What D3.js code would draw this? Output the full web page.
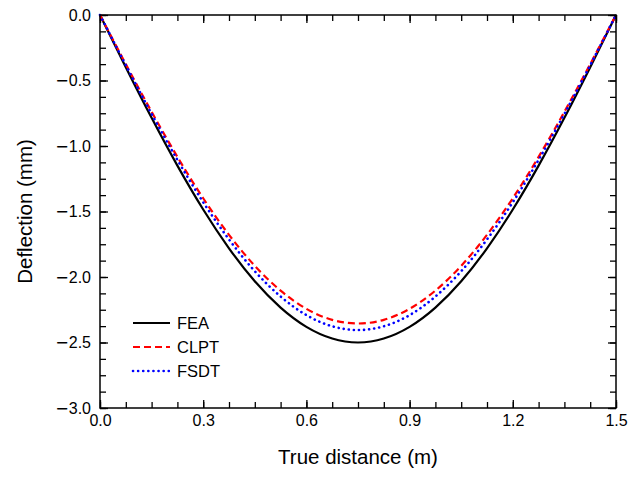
<!DOCTYPE html>
<html lang="en">
<head>
<meta charset="UTF-8">
<title>Deflection vs true distance</title>
<script src="https://d3js.org/d3.v7.min.js"></script>
<style>
  body { margin: 0; background: #fff; }
  text { font-family: "Liberation Sans", Arial, Helvetica, sans-serif; }
</style>
</head>
<body>
<svg width="631" height="477"></svg>
<script>
// distance along the plate (m)
const distance = [0, 0.075, 0.15, 0.225, 0.3, 0.375, 0.45, 0.525, 0.6, 0.675, 0.75,
                  0.825, 0.9, 0.975, 1.05, 1.125, 1.2, 1.275, 1.35, 1.425, 1.5];
// deflection (mm) for each method
const fea  = [0, -0.398, -0.785, -1.150, -1.485, -1.781, -2.033, -2.234, -2.381, -2.470, -2.500,
              -2.470, -2.381, -2.234, -2.033, -1.781, -1.485, -1.150, -0.785, -0.398, 0];
const clpt = [0, -0.375, -0.739, -1.083, -1.399, -1.678, -1.915, -2.104, -2.243, -2.327, -2.355,
              -2.327, -2.243, -2.104, -1.915, -1.678, -1.399, -1.083, -0.739, -0.375, 0];
const fsdt = [0, -0.383, -0.755, -1.106, -1.429, -1.713, -1.956, -2.149, -2.291, -2.376, -2.405,
              -2.376, -2.291, -2.149, -1.956, -1.713, -1.429, -1.106, -0.755, -0.383, 0];

const xTicks = [0, 0.3, 0.6, 0.9, 1.2, 1.5];
const yTicks = [0, -0.5, -1.0, -1.5, -2.0, -2.5, -3.0];

const series = [
  { name: "FEA",  values: fea,  color: "#000000", dash: null,    width: 2.2 },
  { name: "CLPT", values: clpt, color: "#ff0000", dash: "7,4",   width: 2.2 },
  { name: "FSDT", values: fsdt, color: "#0000ff", dash: "0.1,5", width: 2.6 }
];

const svg = d3.select("svg");
const margin = { top: 15, right: 15, bottom: 69, left: 100 };
const width = 631 - margin.left - margin.right;
const height = 477 - margin.top - margin.bottom;

const g = svg.append("g")
  .attr("transform", `translate(${margin.left},${margin.top})`);

const x = d3.scaleLinear().domain([0, 1.5]).range([0, width]);
const y = d3.scaleLinear().domain([-3, 0]).range([height, 0]);

const xMinor = d3.range(0, 1.5001, 0.075);
const yMinor = d3.range(-3, 0.0001, 0.125);
const fmt = d3.format(".1f");

function styleAxis(sel) {
  sel.select(".domain").remove();
  sel.selectAll("line").attr("stroke", "#000").attr("stroke-width", 1.3);
  sel.selectAll("text").attr("font-size", "16px").attr("fill", "#000");
}

// wide minus sign like the original
function minusLabels(sel) {
  sel.selectAll(".tick text").each(function(d) {
    const t = d3.select(this);
    t.text(null);
    if (d < 0) t.append("tspan").attr("font-family", "DejaVu Sans").text("\u2212");
    t.append("tspan").text(fmt(Math.abs(d)));
  });
}

// minor ticks on all four sides
g.append("g").attr("transform", `translate(0,${height})`)
  .call(d3.axisBottom(x).tickValues(xMinor).tickSize(-6).tickFormat("")).call(styleAxis);
g.append("g")
  .call(d3.axisTop(x).tickValues(xMinor).tickSize(-6).tickFormat("")).call(styleAxis);
g.append("g")
  .call(d3.axisLeft(y).tickValues(yMinor).tickSize(-6).tickFormat("")).call(styleAxis);
g.append("g").attr("transform", `translate(${width},0)`)
  .call(d3.axisRight(y).tickValues(yMinor).tickSize(-6).tickFormat("")).call(styleAxis);

// major ticks with labels
g.append("g").attr("transform", `translate(0,${height})`)
  .call(d3.axisBottom(x).tickValues(xTicks).tickSize(-8).tickPadding(7).tickFormat(fmt))
  .call(styleAxis);
g.append("g")
  .call(d3.axisTop(x).tickValues(xTicks).tickSize(-8).tickFormat("")).call(styleAxis);
g.append("g")
  .call(d3.axisLeft(y).tickValues(yTicks).tickSize(-8).tickPadding(9).tickFormat(fmt))
  .call(styleAxis)
  .call(minusLabels);
g.append("g").attr("transform", `translate(${width},0)`)
  .call(d3.axisRight(y).tickValues(yTicks).tickSize(-8).tickFormat("")).call(styleAxis);

// curves
const line = d3.line()
  .x((d, i) => x(distance[i]))
  .y(d => y(d))
  .curve(d3.curveNatural);

series.forEach(s => {
  g.append("path")
    .datum(s.values)
    .attr("fill", "none")
    .attr("stroke", s.color)
    .attr("stroke-width", s.width)
    .attr("stroke-linecap", s.dash === "0.1,5" ? "round" : "butt")
    .attr("stroke-dasharray", s.dash)
    .attr("d", line);
});

// frame
g.append("rect")
  .attr("width", width)
  .attr("height", height)
  .attr("fill", "none")
  .attr("stroke", "#000")
  .attr("stroke-width", 1.5);

// legend
const legend = g.append("g").attr("transform", "translate(33,308)");
series.forEach((s, i) => {
  legend.append("line")
    .attr("x1", 0).attr("x2", 37)
    .attr("y1", i * 24).attr("y2", i * 24)
    .attr("stroke", s.color)
    .attr("stroke-width", s.width)
    .attr("stroke-linecap", s.dash === "0.1,5" ? "round" : "butt")
    .attr("stroke-dasharray", s.dash);
  legend.append("text")
    .attr("x", 44)
    .attr("y", i * 24)
    .attr("dy", "0.36em")
    .attr("font-size", "16.5px")
    .text(s.name);
});

// axis titles
g.append("text")
  .attr("x", width / 2)
  .attr("y", height + 56)
  .attr("text-anchor", "middle")
  .attr("font-size", "20.5px")
  .text("True distance (m)");

g.append("text")
  .attr("transform", "rotate(-90)")
  .attr("x", -height / 2)
  .attr("y", -68)
  .attr("text-anchor", "middle")
  .attr("font-size", "20.5px")
  .text("Deflection (mm)");
</script>
</body>
</html>
